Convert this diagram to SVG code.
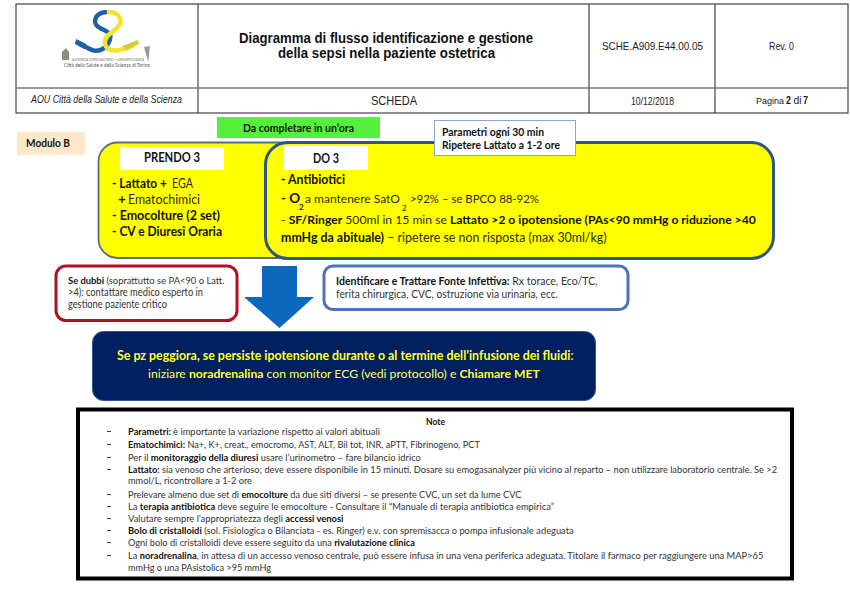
<svg xmlns="http://www.w3.org/2000/svg" width="850" height="593" viewBox="0 0 850 593">
<style>
text{font-family:"Lato","Open Sans",sans-serif;fill:#111;white-space:pre}
.a{font-family:"Liberation Sans",Arial,sans-serif;fill:#222}
.b{font-weight:700}
.y{font-size:12.300px;fill:#2a2a10}
.y .b,.y.b{fill:#111}
.s{font-size:10.500px;fill:#333}
.s .b{fill:#111}
.n{font-size:9.300px;fill:#333}
.n .b,.n.b{fill:#111}
.d{font-size:12.300px;fill:#ffff66}
.d .b{fill:#ffff33}
.t{fill:none;stroke:#444;stroke-width:1.2}
.sub{font-size:8px}
</style>
<rect width="850" height="593" fill="#fff"/>
<g id="header">
<rect class="t" x="16" y="4" width="832" height="109"/>
<path class="t" d="M198 4V113M589 4V113M715 4V113"/>
<path d="M16 88H848" stroke="#777" stroke-width="1.6"/>
</g>
<g id="logo">
<path d="M107 12C92 13 93 25 100 28C106 31 112 33 110 39C108 47 100 53 92 50C86 48 82 44 77 42" fill="none" stroke="#1f5fa8" stroke-width="4.500"/>
<path d="M107 12C118 11 125 20 117 28C110 34 104 37 105 44C107 53 120 52 134 45" fill="none" stroke="#f2e530" stroke-width="4.500"/>
<path d="M76 39L86 44L84 49L75 44Z" fill="#1f5fa8"/>
<path d="M122 46L138 40L139 44L126 50Z" fill="#d8cc30"/>
<path d="M62 52L66 48L69 52V60H62Z" fill="#8a8f80"/>
<path d="M144 47L150 46L149 54L148 62L146 54Z" fill="#9a9a90"/>
<text x="72" y="61" style="font-size:4.600px;fill:#777" textLength="72" lengthAdjust="spacingAndGlyphs">AZIENDA OSPEDALIERO - UNIVERSITARIA</text>
<text x="64" y="67" style="font-size:5.200px;fill:#555" textLength="86" lengthAdjust="spacingAndGlyphs">Città della Salute e della Scienza di Torino</text>
</g>
<g id="title">
<text class="a b" x="239" y="43" style="font-size:14px;fill:#111" textLength="294" lengthAdjust="spacingAndGlyphs">Diagramma di flusso identificazione e gestione</text>
<text class="a b" x="278" y="58" style="font-size:14px;fill:#111" textLength="217" lengthAdjust="spacingAndGlyphs">della sepsi nella paziente ostetrica</text>
</g>
<g id="code"><text class="a" x="602" y="50" style="font-size:11px" textLength="101" lengthAdjust="spacingAndGlyphs">SCHE.A909.E44.00.05</text></g>
<g id="rev"><text class="a" x="769" y="50" style="font-size:10px" textLength="25" lengthAdjust="spacingAndGlyphs">Rev. 0</text></g>
<g id="aou"><text class="a" x="31" y="103" style="font-size:10px;font-style:italic" textLength="151" lengthAdjust="spacingAndGlyphs">AOU Città della Salute e della Scienza</text></g>
<g id="scheda"><text class="a" x="371" y="105" style="font-size:12px" textLength="46" lengthAdjust="spacingAndGlyphs">SCHEDA</text></g>
<g id="date"><text class="a" x="631" y="105" style="font-size:10px" textLength="43" lengthAdjust="spacingAndGlyphs">10/12/2018</text></g>
<g id="page">
<text class="a" x="756" y="104" style="font-size:9px" textLength="28" lengthAdjust="spacingAndGlyphs">Pagina</text>
<text class="a b" x="786" y="104" style="font-size:10px" textLength="5" lengthAdjust="spacingAndGlyphs">2</text>
<text class="a" x="793.500" y="104" style="font-size:10px" textLength="8" lengthAdjust="spacingAndGlyphs">di</text>
<text class="a b" x="803" y="104" style="font-size:10px" textLength="5" lengthAdjust="spacingAndGlyphs">7</text>
</g>

<g id="timing"><rect x="217" y="117" width="163" height="21" fill="#55f03c"/>
<text class="b" x="243" y="132" style="font-size:12px" textLength="111" lengthAdjust="spacingAndGlyphs">Da completare in un’ora</text></g>
<g id="modulo"><rect x="17" y="132" width="68" height="23" fill="#fde9c9"/>
<text class="b" x="26" y="147" style="font-size:12px" textLength="44" lengthAdjust="spacingAndGlyphs">Modulo B</text></g>

<g id="prendo">
<rect x="98.500" y="142.500" width="200" height="115.500" rx="19" fill="#ffff00" stroke="#5c6f78" stroke-width="1.800"/>
<rect x="120" y="147" width="104" height="23" fill="#fff"/>
<text class="b" x="144" y="162" style="font-size:14px" textLength="56" lengthAdjust="spacingAndGlyphs">PRENDO 3</text>
<text class="y b" x="112" y="188" style="font-size:12.500px" textLength="55" lengthAdjust="spacingAndGlyphs">- Lattato +</text>
<text class="y" x="172" y="188" style="font-size:12.500px" textLength="21" lengthAdjust="spacingAndGlyphs">EGA</text>
<text class="y b" x="118" y="204" style="font-size:13.500px">+</text>
<text class="y" x="128" y="204" style="font-size:12.500px" textLength="72" lengthAdjust="spacingAndGlyphs">Ematochimici</text>
<text class="y b" x="112" y="220" style="font-size:13.500px" textLength="108" lengthAdjust="spacingAndGlyphs">- Emocolture (2 set)</text>
<text class="y b" x="112" y="236" style="font-size:13.500px" textLength="110" lengthAdjust="spacingAndGlyphs">- CV e Diuresi Oraria</text>
</g>
<g id="do">
<rect x="265.500" y="142.500" width="508" height="116" rx="22" fill="#ffff00" stroke="#2f5585" stroke-width="3"/>
<rect x="284" y="146" width="84" height="24" fill="#fff"/>
<text class="b" x="313" y="163" style="font-size:14px" textLength="26" lengthAdjust="spacingAndGlyphs">DO 3</text>
<text class="y b" x="281" y="184" style="font-size:13.500px" textLength="64" lengthAdjust="spacingAndGlyphs">- Antibiotici</text>
<text class="y b" x="281" y="203" style="font-size:13.500px">- O</text>
<text class="sub b" x="299" y="210" style="fill:#111">2</text>
<text class="y" x="305" y="203" style="font-size:11.800px" textLength="95" lengthAdjust="spacingAndGlyphs">a mantenere SatO</text>
<text class="sub" x="402" y="211">2</text>
<text class="y" x="410" y="203" style="font-size:12.300px" textLength="129" lengthAdjust="spacingAndGlyphs">&gt;92% – se BPCO 88-92%</text>
<text class="y" x="281" y="224" style="font-size:12.150px">- <tspan class="b">SF/Ringer</tspan> 500ml in 15 min se <tspan class="b">Lattato &gt;2 o ipotensione (PAs&lt;90 mmHg o riduzione &gt;40</tspan></text>
<text class="y" x="281" y="242" style="font-size:12.400px"><tspan class="b">mmHg da abituale)</tspan> – ripetere se non risposta (max 30ml/kg)</text>
</g>
<g id="parametri">
<rect x="434.500" y="120.500" width="141" height="35" fill="#fff" stroke="#8aa6cc" stroke-width="1"/>
<text class="b" x="442" y="136" style="font-size:11px" textLength="102" lengthAdjust="spacingAndGlyphs">Parametri ogni 30 min</text>
<text class="b" x="442" y="149" style="font-size:11px" textLength="118" lengthAdjust="spacingAndGlyphs">Ripetere Lattato a 1-2 ore</text>
</g>
<g id="dubbi">
<rect x="56" y="266" width="181" height="54.500" rx="10" fill="#fff" stroke="#b01020" stroke-width="3"/>
<text class="s" x="68" y="284" style="font-size:9.400px"><tspan class="b">Se dubbi</tspan> (soprattutto se PA&lt;90 o Latt.</text>
<text class="s" x="68" y="296" textLength="135" lengthAdjust="spacingAndGlyphs">&gt;4): contattare medico esperto in</text>
<text class="s" x="68" y="308" textLength="99" lengthAdjust="spacingAndGlyphs">gestione paziente critico</text>
</g>
<g id="fonte">
<rect x="324" y="266" width="304" height="43.500" rx="9" fill="#fff" stroke="#4f71be" stroke-width="3"/>
<text class="s" x="336" y="285"><tspan class="b">Identificare e Trattare Fonte Infettiva:</tspan> Rx torace, Eco/TC,</text>
<text class="s" x="336" y="298" textLength="222" lengthAdjust="spacingAndGlyphs">ferita chirurgica, CVC, ostruzione via urinaria, ecc.</text>
</g>
<g id="connectors">
<path d="M262 266H297V297H314L279.500 328L244 297H262Z" fill="#0b68bd"/>
</g>
<g id="met">
<rect x="92.500" y="331.500" width="503" height="69" rx="11" fill="#002060" stroke="#2f5597" stroke-width="1"/>
<text class="d" x="117" y="360" style="font-size:12.400px"><tspan class="b">Se pz peggiora, se persiste ipotensione durante o al termine dell’infusione dei fluidi</tspan>:</text>
<text class="d" x="148" y="378" style="font-size:12.200px">iniziare <tspan class="b">noradrenalina</tspan> con monitor ECG (vedi protocollo) e <tspan class="b">Chiamare MET</tspan></text>
</g>
<g id="note">
<rect x="78" y="409.500" width="714" height="169" fill="#fff" stroke="#000" stroke-width="4"/>
<text class="n b" x="426" y="425" textLength="19" lengthAdjust="spacingAndGlyphs">Note</text>
<path d="M107 431.500h4M107 444.500h4M107 457.500h4M107 469.500h4M107 494.500h4M107 506.500h4M107 518.500h4M107 530.500h4M107 542.500h4M107 555.500h4" stroke="#444" stroke-width="1"/>
<text class="n b" x="128" y="435" textLength="43" lengthAdjust="spacingAndGlyphs">Parametri:</text>
<text class="n" x="173" y="435" textLength="207" lengthAdjust="spacingAndGlyphs">è importante la variazione rispetto ai valori abituali</text>
<text class="n" x="128" y="448" style="font-size:9.170px"><tspan class="b">Ematochimici:</tspan> Na+, K+, creat., emocromo, AST, ALT, Bil tot, INR, aPTT, Fibrinogeno, PCT</text>
<text class="n" x="128" y="461" style="font-size:9.370px">Per il <tspan class="b">monitoraggio della diuresi</tspan> usare l’urinometro – fare bilancio idrico</text>
<text class="n" x="128" y="473" style="font-size:9.260px"><tspan class="b">Lattato:</tspan> sia venoso che arterioso; deve essere disponibile in 15 minuti. Dosare su emogasanalyzer più vicino al reparto – non utilizzare laboratorio centrale. Se &gt;2</text>
<text class="n" x="128" y="484" textLength="124" lengthAdjust="spacingAndGlyphs">mmol/L, ricontrollare a 1-2 ore</text>
<text class="n" x="128" y="498" style="font-size:9.200px">Prelevare almeno due set di <tspan class="b">emocolture</tspan> da due siti diversi – se presente CVC, un set da lume CVC</text>
<text class="n" x="128" y="510" style="font-size:9.340px">La <tspan class="b">terapia antibiotica</tspan> deve seguire le emocolture - Consultare il “Manuale di terapia antibiotica empirica”</text>
<text class="n" x="128" y="522" style="font-size:9.350px">Valutare sempre l’appropriatezza degli <tspan class="b">accessi venosi</tspan></text>
<text class="n" x="128" y="534" style="font-size:9.310px"><tspan class="b">Bolo di cristalloidi</tspan> (sol. Fisiologica o Bilanciata - es. Ringer) e.v. con spremisacca o pompa infusionale adeguata</text>
<text class="n" x="128" y="546" style="font-size:9.230px">Ogni bolo di cristalloidi deve essere seguito da una <tspan class="b">rivalutazione clinica</tspan></text>
<text class="n" x="128" y="559" style="font-size:9.310px">La <tspan class="b">noradrenalina</tspan>, in attesa di un accesso venoso centrale, può essere infusa in una vena periferica adeguata. Titolare il farmaco per raggiungere una MAP&gt;65</text>
<text class="n" x="128" y="571" textLength="143" lengthAdjust="spacingAndGlyphs">mmHg o una PAsistolica &gt;95 mmHg</text>
</g>
</svg>
